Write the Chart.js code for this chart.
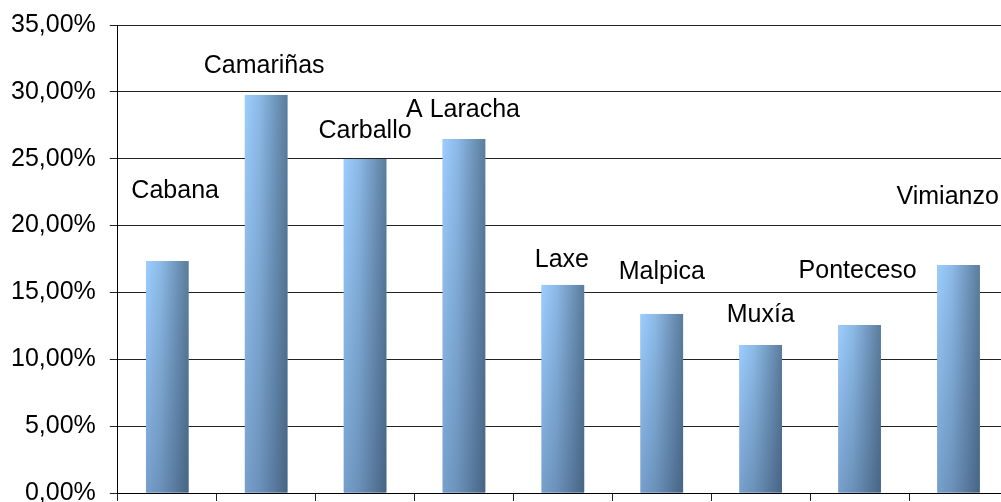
<!DOCTYPE html>
<html>
<head>
<meta charset="utf-8">
<script src="https://cdn.jsdelivr.net/npm/chart.js@4/dist/chart.umd.min.js"></script>
<style>
  html, body { margin: 0; padding: 0; background: #fff; overflow: hidden; }
  #wrap { position: absolute; left: 0; top: -4px; width: 1010px; height: 526px; }
</style>
</head>
<body>
<div id="wrap"><canvas id="canvas"></canvas></div>
<script>
// data
var municipios = ['Cabana', 'Camariñas', 'Carballo', 'A Laracha', 'Laxe', 'Malpica', 'Muxía', 'Ponteceso', 'Vimianzo'];
var valores = [17.35, 29.77, 24.98, 26.47, 15.56, 13.39, 11.07, 12.56, 17.05];
var yTicks = [0, 5, 10, 15, 20, 25, 30, 35];

// where each name sits (in % units) and a small sideways nudge (in categories)
var labelLevel = [22.6, 31.9, 27.1, 28.6, 17.4, 16.5, 13.3, 16.6, 22.1];
var labelNudge = [0.08, -0.02, 0, -0.01, -0.01, 0, 0, -0.02, -0.11];

var FONT = '"Liberation Sans", Arial, sans-serif';

function fmt(v){
    return v.toFixed(2).replace('.', ',') + '%';
}

// gradient bars drawn over the library's bar elements
var shadedBars = {
    id: 'shadedBars',
    afterDatasetsDraw: function(chart){
        var ctx = chart.ctx;
        var meta = chart.getDatasetMeta(0);
        meta.data.forEach(function(bar){
            var l = bar.x - bar.width / 2, r = bar.x + bar.width / 2;
            var t = bar.y, b = bar.base;
            var g = ctx.createLinearGradient(l, 0, r, 0);
            g.addColorStop(0, '#9ccdff');
            g.addColorStop(0.35, '#8cb9e6');
            g.addColorStop(1, '#5b7c9c');
            ctx.save();
            ctx.fillStyle = g;
            ctx.fillRect(l, t, r - l, b - t);
            var v = ctx.createLinearGradient(0, t, 0, b);
            v.addColorStop(0, 'rgba(20,40,70,0)');
            v.addColorStop(1, 'rgba(20,40,70,0.28)');
            ctx.fillStyle = v;
            ctx.fillRect(l, t, r - l, b - t);
            ctx.restore();
        });
    }
};

var nameLabels = {
    id: 'nameLabels',
    afterDatasetsDraw: function(chart){
        var ctx = chart.ctx;
        var xs = chart.scales.x, ys = chart.scales.y;
        var step = xs.width / municipios.length;
        ctx.save();
        ctx.font = '25px ' + FONT;
        ctx.fillStyle = '#000';
        ctx.textAlign = 'center';
        ctx.textBaseline = 'middle';
        municipios.forEach(function(name, i){
            var x = xs.getPixelForValue(i) + labelNudge[i] * step;
            var y = ys.getPixelForValue(labelLevel[i]);
            ctx.fillText(name, x, y);
        });
        ctx.restore();
    }
};

function create_graph(){
    new Chart(document.getElementById("canvas"), {
        type: 'bar',
        data: {
            labels: municipios,
            datasets: [{
                data: valores,
                backgroundColor: '#7fa6cc',
                barPercentage: 0.43,
                categoryPercentage: 1
            }]
        },
        options: {
            responsive: true,
            maintainAspectRatio: false,
            animation: false,
            layout: { padding: { left: -3, right: 2, top: 5, bottom: 1 } },
            plugins: {
                legend: { display: false },
                tooltip: { enabled: false }
            },
            scales: {
                x: {
                    offset: true,
                    grid: { offset: true, drawOnChartArea: false, drawTicks: true, tickLength: 8, color: '#222' },
                    border: { color: '#000', width: 1 },
                    ticks: { display: false }
                },
                y: {
                    min: 0,
                    max: 35,
                    afterBuildTicks: function(scale){
                        scale.ticks = yTicks.map(function(v){ return { value: v }; });
                    },
                    grid: { color: '#222', tickLength: 8, lineWidth: 1 },
                    border: { color: '#000', width: 1 },
                    ticks: {
                        padding: 14,
                        color: '#000',
                        font: { family: FONT, size: 25 },
                        callback: function(v){ return fmt(v); }
                    }
                }
            }
        },
        plugins: [shadedBars, nameLabels]
    });
}

create_graph();
</script>
</body>
</html>
